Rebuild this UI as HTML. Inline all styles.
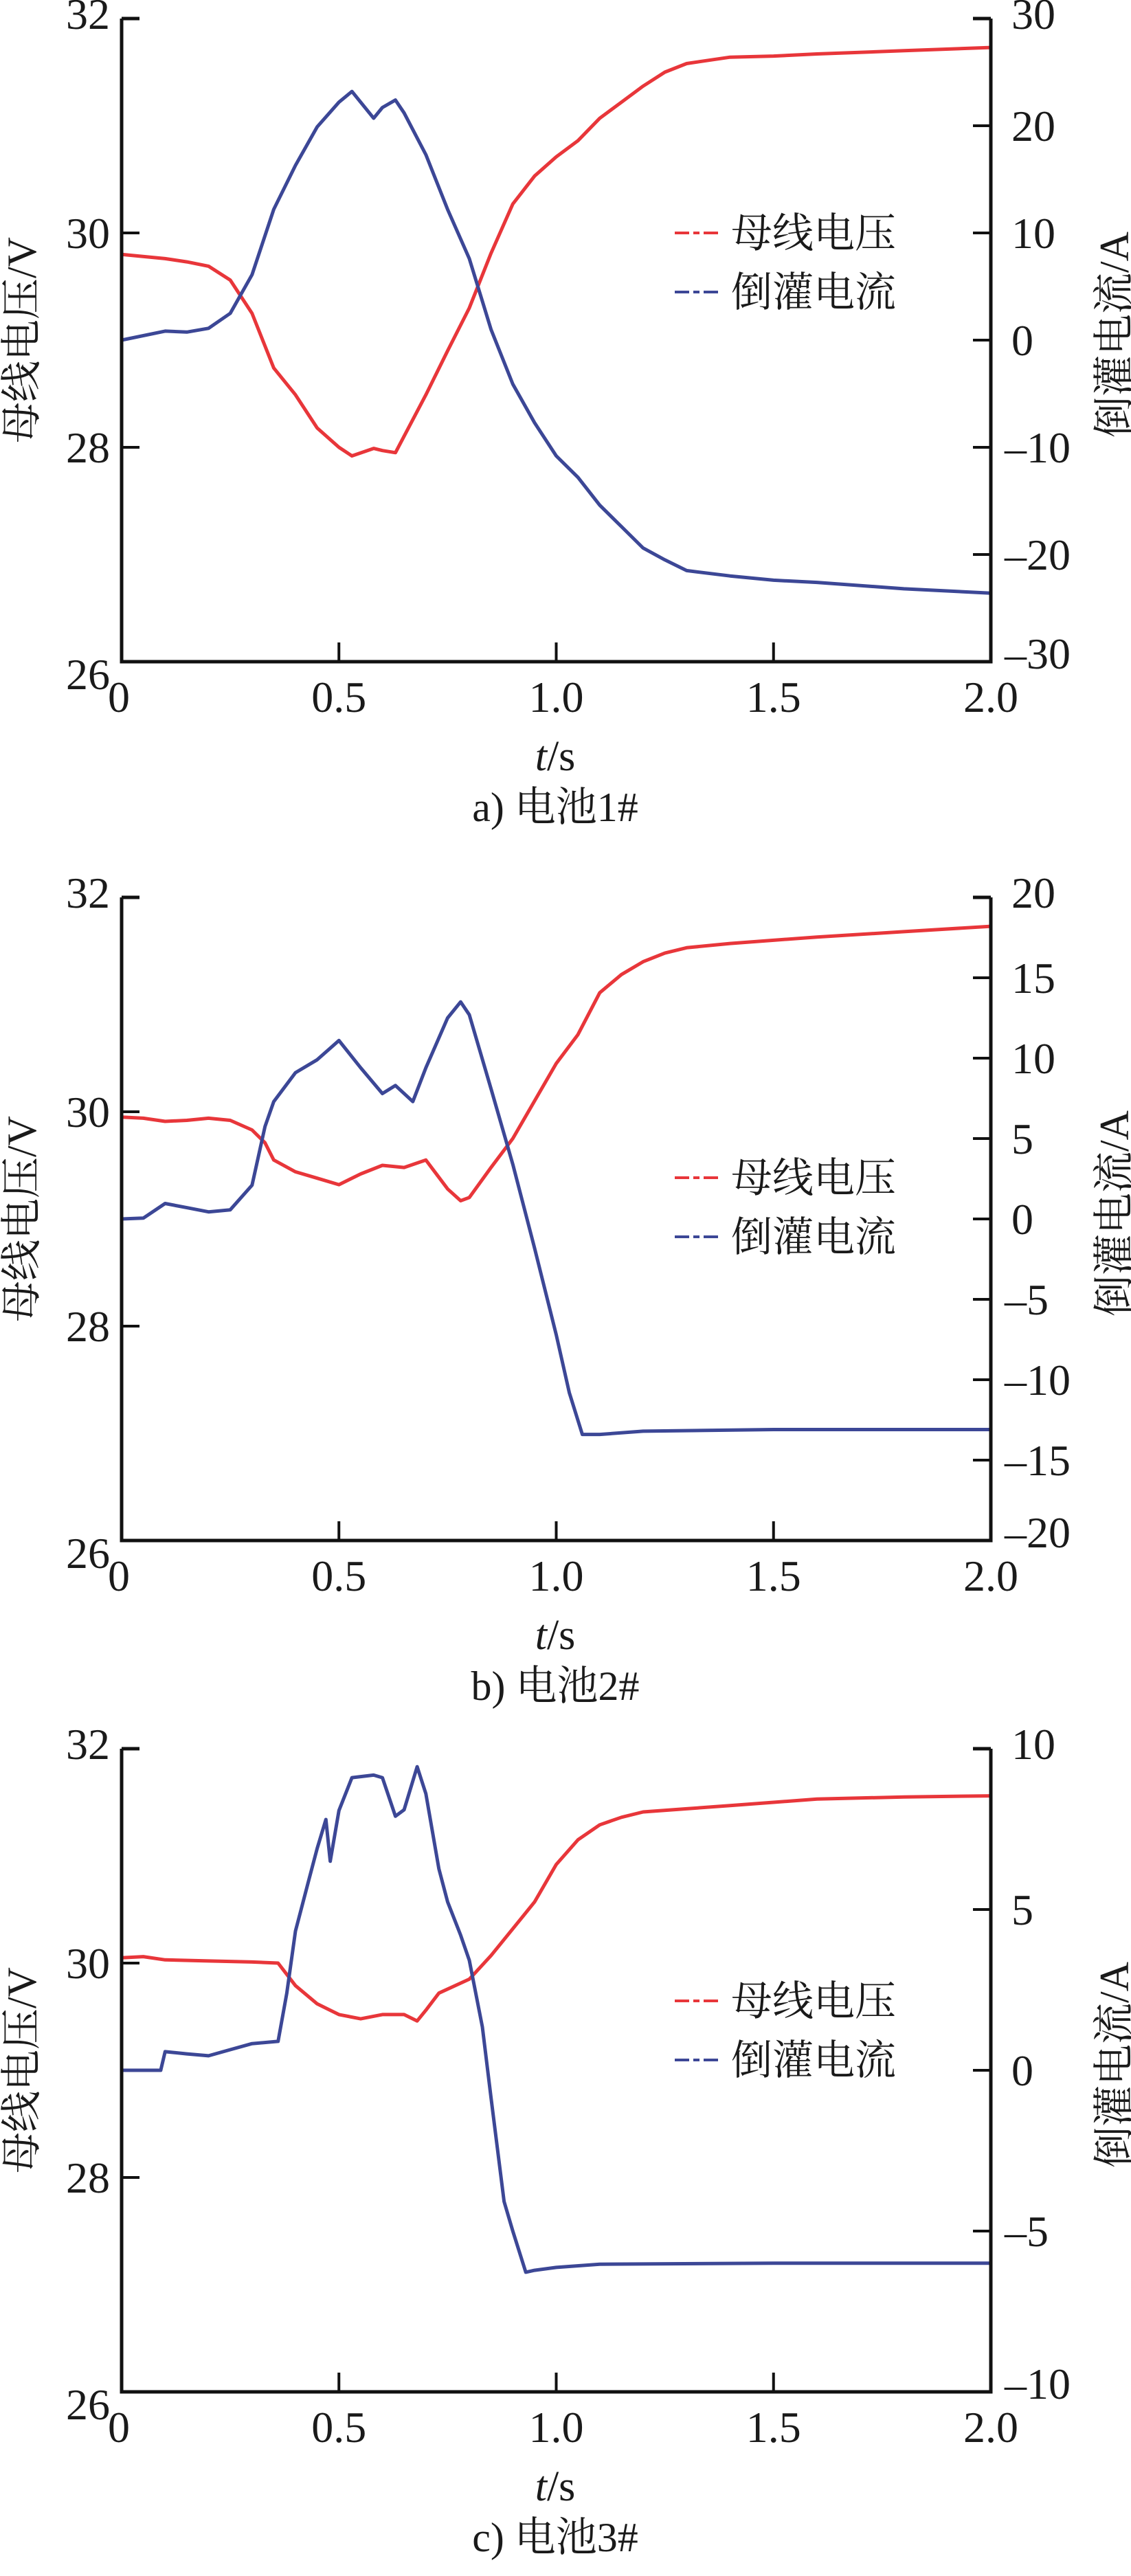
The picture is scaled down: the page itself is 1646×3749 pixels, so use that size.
<!DOCTYPE html>
<html><head><meta charset="utf-8"><style>
html,body{margin:0;padding:0;background:#fff;}
svg{display:block;}
text{font-family:"Liberation Serif","Noto Serif CJK SC","Noto Sans CJK SC",serif;fill:#1a1a1a;}
</style></head><body>
<svg id="fig" width="1646" height="3749" viewBox="0 0 1646 3749" xmlns="http://www.w3.org/2000/svg"></svg>
<script>
// ---- data: chart a (battery 1#) ----
const tA_V = [0,0.1,0.15,0.2,0.25,0.3,0.35,0.4,0.45,0.5,0.53,0.58,0.6,0.63,0.7,0.75,0.8,0.85,0.9,0.95,1.0,1.05,1.1,1.15,1.2,1.25,1.3,1.35,1.4,1.5,1.6,1.8,2.0];
const vA = [29.8,29.76,29.73,29.69,29.56,29.25,28.74,28.49,28.18,28.0,27.92,27.99,27.97,27.95,28.49,28.9,29.3,29.81,30.27,30.53,30.71,30.86,31.07,31.22,31.37,31.5,31.58,31.61,31.64,31.65,31.67,31.7,31.73];
const tA_I = [0,0.1,0.15,0.2,0.25,0.3,0.35,0.4,0.45,0.5,0.53,0.58,0.6,0.63,0.65,0.7,0.75,0.8,0.85,0.9,0.95,1.0,1.05,1.1,1.15,1.2,1.25,1.3,1.4,1.5,1.6,1.8,2.0];
const iA = [0,0.84,0.75,1.1,2.5,6.1,12.2,16.3,19.9,22.2,23.2,20.7,21.7,22.4,21.2,17.3,12.2,7.6,1.0,-4.1,-7.7,-10.8,-12.8,-15.4,-17.4,-19.4,-20.5,-21.5,-22.0,-22.4,-22.6,-23.2,-23.6];
// ---- data: chart b (battery 2#) ----
const tB_V = [0,0.05,0.1,0.15,0.2,0.25,0.3,0.33,0.35,0.4,0.45,0.5,0.55,0.6,0.65,0.7,0.75,0.78,0.8,0.85,0.9,0.95,1.0,1.05,1.1,1.15,1.2,1.25,1.3,1.4,1.5,1.6,1.8,2.0];
const vB = [29.95,29.94,29.91,29.92,29.94,29.92,29.83,29.71,29.55,29.44,29.38,29.32,29.42,29.5,29.48,29.55,29.28,29.17,29.2,29.48,29.75,30.1,30.45,30.72,31.11,31.28,31.4,31.48,31.53,31.57,31.6,31.63,31.68,31.73];
const tB_I = [0,0.05,0.1,0.15,0.2,0.25,0.3,0.33,0.35,0.4,0.45,0.5,0.55,0.6,0.63,0.67,0.7,0.75,0.78,0.8,0.85,0.9,0.95,1.0,1.03,1.06,1.1,1.2,1.5,2.0];
const iB = [0,0.05,0.96,0.7,0.44,0.57,2.1,5.75,7.3,9.1,9.9,11.1,9.4,7.8,8.3,7.3,9.4,12.5,13.5,12.7,8.1,3.4,-1.8,-7.2,-10.8,-13.4,-13.4,-13.2,-13.1,-13.1];
// ---- data: chart c (battery 3#) ----
const tC_V = [0,0.05,0.1,0.2,0.3,0.36,0.4,0.45,0.5,0.55,0.6,0.65,0.68,0.7,0.73,0.8,0.85,0.9,0.95,1.0,1.05,1.1,1.15,1.2,1.3,1.4,1.5,1.6,1.8,2.0];
const vC = [30.05,30.06,30.03,30.02,30.01,30.0,29.79,29.62,29.52,29.48,29.52,29.52,29.46,29.56,29.72,29.85,30.07,30.32,30.57,30.92,31.15,31.29,31.36,31.41,31.44,31.47,31.5,31.53,31.55,31.56];
const tC_I = [0,0.09,0.1,0.15,0.2,0.25,0.3,0.36,0.38,0.4,0.43,0.45,0.47,0.48,0.5,0.53,0.58,0.6,0.63,0.65,0.68,0.7,0.73,0.75,0.78,0.8,0.83,0.85,0.88,0.9,0.93,0.95,1.0,1.1,1.5,2.0];
const iC = [0,0,0.58,0.51,0.45,0.64,0.83,0.9,2.4,4.33,5.88,6.9,7.8,6.5,8.08,9.1,9.18,9.1,7.9,8.1,9.44,8.6,6.27,5.24,4.2,3.42,1.35,-0.85,-4.08,-5.0,-6.28,-6.22,-6.13,-6.03,-6.0,-6.0];
// ---- axes ----
const xTicks = [0,0.5,1.0,1.5,2.0];
const xTickLabels = ["0","0.5","1.0","1.5","2.0"];
const vTicks = [26,28,30,32];
const rTicksA = [-30,-20,-10,0,10,20,30];
const rTicksB = [-20,-15,-10,-5,0,5,10,15,20];
const rTicksC = [-10,-5,0,5,10];
const captions = ["a) 电池1#","b) 电池2#","c) 电池3#"];

const NS="http://www.w3.org/2000/svg";
const svg=document.getElementById('fig');
const X0=177,X1=1442,H=936;
const RED="#e8363a",BLUE="#3c4796";
function mk(tag,parent){const e=document.createElementNS(NS,tag);parent.appendChild(e);return e;}
function fmt(v){return v<0?"–"+Math.abs(v):String(v);}

function chart(idx,top,tV,vs,tI,is,rTicks,legTop){
  const g=mk('g',svg);
  
  
  const bot=top+H;
  const rMin=rTicks[0],rMax=rTicks[rTicks.length-1];
  const xs=t=>X0+(t-0)/(2-0)*(X1-X0);
  const yl=v=>bot-(v-26)/(32-26)*H;
  const yr=v=>bot-(v-rMin)/(rMax-rMin)*H;
  function series(ts,vals,yf,col,name){
    const p=mk('path',g);
    
    
    let d='';
    for(let k=0;k<ts.length;k++){d+=(k?'L':'M')+xs(ts[k]).toFixed(1)+','+yf(vals[k]).toFixed(1);}
    p.setAttribute('d',d);p.setAttribute('fill','none');p.setAttribute('stroke',col);
    p.setAttribute('stroke-width','5');p.setAttribute('stroke-linejoin','round');
  }
  series(tV,vs,yl,RED,'bus-voltage-line');
  series(tI,is,yr,BLUE,'reverse-current-line');
  const ax=mk('path',g);
  
  
  ax.setAttribute('d',`M${X0},${top}L${X0},${bot}L${X1},${bot}L${X1},${top}`);
  ax.setAttribute('fill','none');ax.setAttribute('stroke','#111');ax.setAttribute('stroke-width','5');
  const cap=mk('path',g);
  
  
  cap.setAttribute('d',`M${X0},${top}L${X0+26},${top}M${X1},${top}L${X1-26},${top}`);
  cap.setAttribute('stroke','#111');cap.setAttribute('stroke-width','5');
  vTicks.forEach((v,k)=>{
    const y=yl(v);
    const t=mk('line',g);
    
    
    t.setAttribute('x1',X0);t.setAttribute('x2',X0+26);t.setAttribute('y1',y);t.setAttribute('y2',y);
    t.setAttribute('stroke','#111');t.setAttribute('stroke-width','4');
    const tx=mk('text',g);
    
    
    let dy=22; if(k===0) dy=40; if(k===vTicks.length-1) dy=15;
    tx.setAttribute('x',160);tx.setAttribute('y',y+dy);tx.setAttribute('text-anchor','end');
    tx.setAttribute('font-size','64');tx.textContent=String(v);
  });
  rTicks.forEach((v,k)=>{
    const y=yr(v);
    const t=mk('line',g);
    
    
    t.setAttribute('x1',X1-26);t.setAttribute('x2',X1);t.setAttribute('y1',y);t.setAttribute('y2',y);
    t.setAttribute('stroke','#111');t.setAttribute('stroke-width','4');
    const tx=mk('text',g);
    
    
    let dy=22; if(k===0) dy=10; if(k===rTicks.length-1) dy=15;
    tx.setAttribute('x',v<0?1462:1472);tx.setAttribute('y',y+dy);
    tx.setAttribute('font-size','64');tx.textContent=fmt(v);
  });
  xTicks.forEach((v,k)=>{
    const x=xs(v);
    if(k>0&&k<xTicks.length-1){
      const t=mk('line',g);
      
      
      t.setAttribute('x1',x);t.setAttribute('x2',x);t.setAttribute('y1',bot);t.setAttribute('y2',bot-28);
      t.setAttribute('stroke','#111');t.setAttribute('stroke-width','4');
    }
    const tx=mk('text',g);
    
    
    tx.setAttribute('x',k===0?x-4:x);tx.setAttribute('y',bot+73);tx.setAttribute('text-anchor','middle');
    tx.setAttribute('font-size','64');tx.textContent=xTickLabels[k];
  });
  const xt=mk('text',g);
  
  
  xt.setAttribute('x',808);xt.setAttribute('y',bot+158);xt.setAttribute('text-anchor','middle');xt.setAttribute('font-size','62');
  xt.innerHTML='<tspan font-style="italic">t</tspan>/s';
  const cp=mk('text',g);
  
  
  cp.setAttribute('x',808);cp.setAttribute('y',bot+232);cp.setAttribute('text-anchor','middle');cp.setAttribute('font-size','60');
  cp.textContent=captions[idx];
  const mid=top+H/2;
  const yt=mk('text',g);
  
  
  yt.setAttribute('transform',`translate(52,${mid}) rotate(-90)`);yt.setAttribute('text-anchor','middle');yt.setAttribute('font-size','60');
  yt.textContent='母线电压/V';
  const yt2=mk('text',g);
  
  
  yt2.setAttribute('transform',`translate(1642,${mid-8}) rotate(-90)`);yt2.setAttribute('text-anchor','middle');yt2.setAttribute('font-size','60');
  yt2.textContent='倒灌电流/A';
  [[RED,'母线电压','legend-entry-voltage'],[BLUE,'倒灌电流','legend-entry-current']].forEach((e,k)=>{
    const y=legTop+k*86;
    const lg=mk('g',g);
    
    
    const l=mk('path',lg);
    
    
    l.setAttribute('d',`M982,${y}L1003,${y}M1009,${y}L1018,${y}M1024,${y}L1045,${y}`);
    l.setAttribute('stroke',e[0]);l.setAttribute('stroke-width','4');
    const t=mk('text',lg);
    
    
    t.setAttribute('x',1064);t.setAttribute('y',y+21);t.setAttribute('font-size','60');
    t.textContent=e[1];
  });
}
chart(0,27,tA_V,vA,tA_I,iA,rTicksA,339);
chart(1,1306,tB_V,vB,tB_I,iB,rTicksB,1714);
chart(2,2545,tC_V,vC,tC_I,iC,rTicksC,2912);
</script>
</body></html>
